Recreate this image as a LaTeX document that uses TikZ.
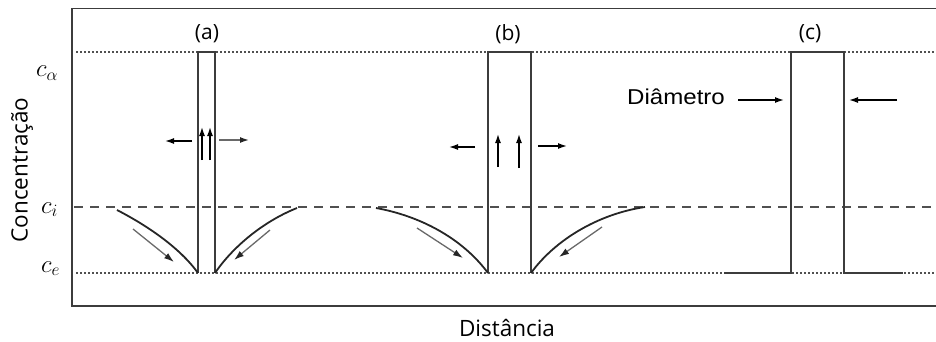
\documentclass[tikz,border=0pt]{standalone}
\usepackage{fontspec}
\newfontfamily\osans{Open Sans}
\newfontfamily\lsans[FakeStretch=1.12]{Liberation Sans}
\usetikzlibrary{arrows.meta}
\definecolor{ink}{RGB}{60,60,60}
\definecolor{dotc}{RGB}{80,80,80}
\definecolor{grayarr}{RGB}{105,105,105}
\tikzset{
  frameline/.style={draw=ink, line width=1.8pt},
  dotline/.style={draw=dotc, line width=1.7pt, dash pattern=on 2pt off 2pt},
  dashline/.style={draw=dotc, line width=1.7pt, dash pattern=on 9pt off 7pt},
  barline/.style={draw=ink, line width=1.7pt},
  curveline/.style={draw=black!85, line width=1.8pt},
  flowarr/.style={draw=grayarr, line width=1.3pt, -{Latex[length=10pt,width=6.5pt,color=black!85]}},
  blackarr/.style={draw=black, line width=1.4pt, -{Latex[length=9pt,width=6pt]}},
  grayharr/.style={draw=grayarr, line width=1.4pt, -{Latex[length=9pt,width=6pt,color=black!85]}},
  lab/.style={font=\osans\fontsize{21}{25}\selectfont, inner sep=0pt},
  mlab/.style={font=\fontsize{26}{30}\selectfont, inner sep=0pt, anchor=base west},
}
\begin{document}
\begin{tikzpicture}[x=1pt,y=-1pt]
\useasboundingbox (0,0) rectangle (936,342);

% frame (open on the right, runs off the picture)
\coordinate (ftr) at (936,8.5);
\coordinate (ftl) at (72,8.5);
\coordinate (fbl) at (72,306);
\coordinate (fbr) at (936,306);
\draw[frameline] (ftr) -- (ftl) -- (fbl) -- (fbr);

% level lines
\coordinate (al) at (76,52);   \coordinate (ar) at (936,52);
\coordinate (il) at (74,207);  \coordinate (ir) at (936,207);
\coordinate (el) at (76,273);  \coordinate (er) at (936,273);
\draw[dotline] (al) -- (ar);
\draw[dashline] (il) -- (ir);
\draw[dotline] (el) -- (er);

% axis labels
\node[mlab] (ca) at (36,77) {$c_\alpha$};
\node[mlab] (ci) at (41,213) {$c_i$};
\node[mlab] (ce) at (41,272) {$c_e$};
\node[font=\osans\fontsize{22.5}{26}\selectfont, inner sep=0pt, rotate=90] (yl) at (22,170) {Concentração};
\node[font=\osans\fontsize{22.5}{26}\selectfont, inner sep=0pt] (xl) at (507,328) {Distância};

% ---------- (a) ----------
\node[lab] (la) at (207,34) {(a)};
\coordinate (a1) at (198,273); \coordinate (a2) at (198,52);
\coordinate (a3) at (215,52);  \coordinate (a4) at (215,273);
\draw[barline] (a1) -- (a2) -- (a3) -- (a4);
\coordinate (aL) at (117,210); \coordinate (aR) at (297,208);
\draw[curveline] (aL) .. controls (148,226) and (180,248) .. (a1);
\draw[curveline] (a4) .. controls (232,248) and (262,222) .. (aR);
\coordinate (af1s) at (133,229); \coordinate (af1e) at (174,262);
\coordinate (af2s) at (270,230); \coordinate (af2e) at (234,260);
\draw[flowarr] (af1s) -- (af1e);
\draw[flowarr] (af2s) -- (af2e);
\coordinate (ah1s) at (192,141); \coordinate (ah1e) at (165,141);
\coordinate (ah2s) at (219,140); \coordinate (ah2e) at (249,140);
\draw[blackarr] (ah1s) -- (ah1e);
\draw[grayharr] (ah2s) -- (ah2e);
\coordinate (au1s) at (202,160); \coordinate (au1e) at (202,127);
\coordinate (au2s) at (210,160); \coordinate (au2e) at (210,127);
\draw[blackarr] (au1s) -- (au1e);
\draw[blackarr] (au2s) -- (au2e);

% ---------- (b) ----------
\node[lab] (lb) at (508,34) {(b)};
\coordinate (b1) at (488,273); \coordinate (b2) at (488,52);
\coordinate (b3) at (531,52);  \coordinate (b4) at (531,273);
\draw[barline] (b1) -- (b2) -- (b3) -- (b4);
\coordinate (bL) at (376,208); \coordinate (bR) at (645,207);
\draw[curveline] (bL) .. controls (420,216) and (462,238) .. (b1);
\draw[curveline] (b4) .. controls (555,240) and (598,214) .. (bR);
\coordinate (bf1s) at (417,228); \coordinate (bf1e) at (463,258);
\coordinate (bf2s) at (602,227); \coordinate (bf2e) at (559,257);
\draw[flowarr] (bf1s) -- (bf1e);
\draw[flowarr] (bf2s) -- (bf2e);
\coordinate (bh1s) at (475,147); \coordinate (bh1e) at (449,147);
\coordinate (bh2s) at (538,146); \coordinate (bh2e) at (567,146);
\draw[blackarr] (bh1s) -- (bh1e);
\draw[blackarr] (bh2s) -- (bh2e);
\coordinate (bu1s) at (498,167); \coordinate (bu1e) at (498,134);
\coordinate (bu2s) at (519,168); \coordinate (bu2e) at (519,134);
\draw[blackarr] (bu1s) -- (bu1e);
\draw[blackarr] (bu2s) -- (bu2e);

% ---------- (c) ----------
\node[lab] (lc) at (810,34) {(c)};
\coordinate (c1) at (791,273); \coordinate (c2) at (791,52);
\coordinate (c3) at (844,52);  \coordinate (c4) at (844,273);
\coordinate (cl) at (724,273); \coordinate (cr) at (903,273);
\draw[barline] (cl) -- (c1) -- (c2) -- (c3) -- (c4) -- (cr);
\node[font=\lsans\fontsize{21.5}{26}\selectfont, inner sep=0pt, anchor=base west] (dia) at (627,104.5) {Diâmetro};
\coordinate (d1s) at (738,100); \coordinate (d1e) at (784,100);
\coordinate (d2s) at (897,100); \coordinate (d2e) at (849,100);
\draw[blackarr] (d1s) -- (d1e);
\draw[blackarr] (d2s) -- (d2e);
\end{tikzpicture}
\end{document}
